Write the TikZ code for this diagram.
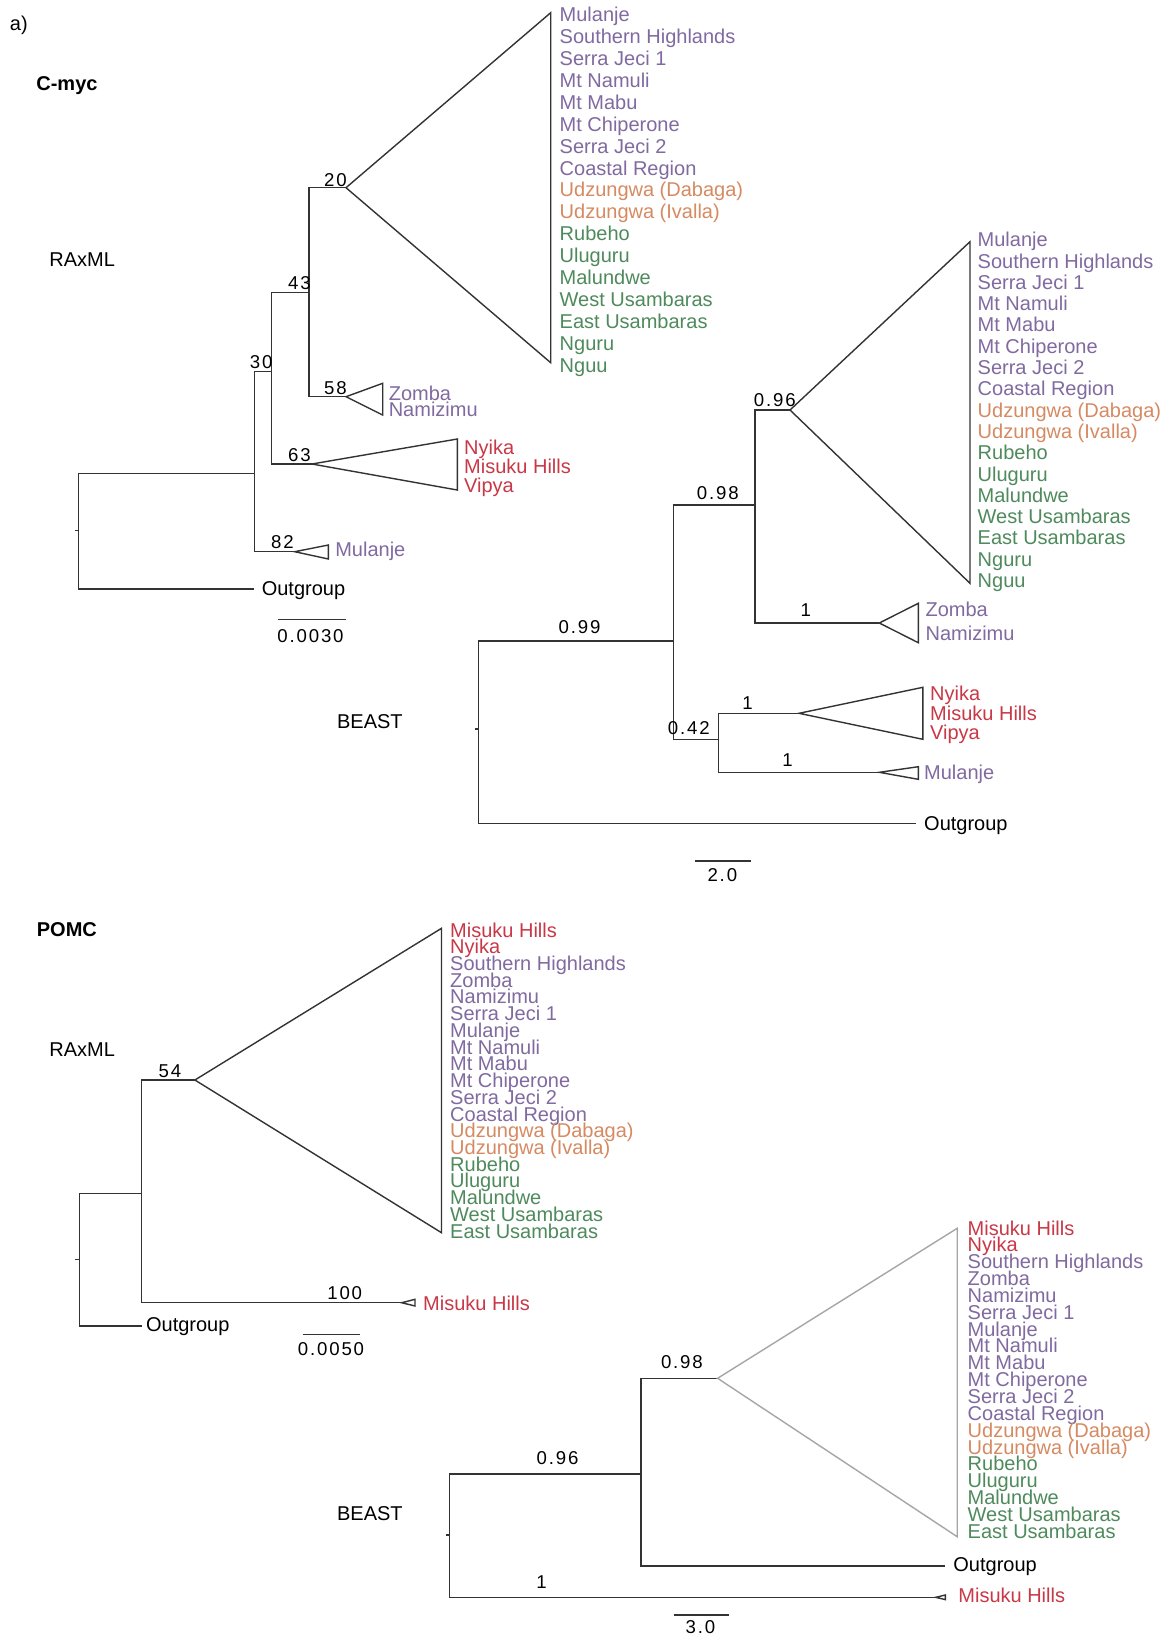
\documentclass[tikz,border=0pt]{standalone}
\usepackage{fontspec}
\setmainfont{Liberation Sans}
\newfontfamily\supfont{Liberation Sans}[LetterSpace=10]
\usetikzlibrary{positioning}
\definecolor{pur}{RGB}{128,106,160}
\definecolor{ora}{RGB}{214,138,98}
\definecolor{grn}{RGB}{78,138,92}
\definecolor{redd}{RGB}{200,56,70}

\begin{document}
\begin{tikzpicture}[
  x=0.5pt, y=-0.5pt,
  br/.style={draw=black!80, line width=0.7pt},
  clade/.style={br, line join=miter},
  pale/.style={clade, draw=black!35},
  tip/.style={anchor=base west, inner sep=0pt, font=\fontsize{10}{12}\selectfont},
  ttl/.style={tip},
  sup/.style={inner sep=0pt, font=\supfont\fontsize{9.3}{11}\selectfont}
]
\path[use as bounding box, fill=white] (0,0) rectangle (1170,1639);

\node[ttl] (fig) at (9.6,30) {a)};
\node[ttl, font=\fontsize{10}{12}\selectfont\bfseries] (cmyc) at (36,90.7) {C-myc};
\node[ttl] (cml) at (49,266.7) {RAxML};
\node[ttl] (cbst) at (336.7,728) {BEAST};
\node[ttl, font=\fontsize{10}{12}\selectfont\bfseries] (pomc) at (36.5,936.7) {POMC};
\node[ttl] (pml) at (49,1056.7) {RAxML};
\node[ttl] (pbst) at (336.7,1520) {BEAST};

\coordinate (mr0) at (78.5,530.7);
\coordinate (mr1) at (254.5,473.3);
\coordinate (mrout) at (253.7,589);
\coordinate (mr30) at (271.7,371.7);
\coordinate (mr82) at (294.7,551.7);
\coordinate (mr43) at (309,292.3);
\coordinate (mr63) at (311.9,464);
\coordinate (mr20) at (346,187.7);
\coordinate (mr58) at (346,396.7);
\draw[br] (mr0) -- ++(-4,0);
\draw[br] (mr0) |- (mr1);
\draw[br] (mr0) |- (mrout);
\draw[br] (mr1) |- (mr30);
\draw[br] (mr1) |- (mr82);
\draw[br] (mr30) |- (mr43);
\draw[br] (mr30) |- (mr63);
\draw[br] (mr43) |- (mr20);
\draw[br] (mr43) |- (mr58);
\draw[clade] (mr20) -- (550.7,12.7) -- (550.7,362.7) -- cycle;
\draw[clade] (mr58) -- (382.7,383.3) -- (382.7,415) -- cycle;
\draw[clade] (mr63) -- (457.3,439) -- (457.3,490) -- cycle;
\draw[clade] (mr82) -- (328.4,545) -- (328.4,559) -- cycle;
\node[sup] (mrs20) at (335.5,180) {20};
\node[sup] (mrs43) at (299.5,283) {43};
\node[sup] (mrs58) at (335.5,388) {58};
\node[sup] (mrs30) at (261.2,361.7) {30};
\node[sup] (mrs63) at (299.5,455) {63};
\node[sup] (mrs82) at (282.4,541.7) {82};
\foreach \cl/\lb [count=\i from 0] in {pur/Mulanje, pur/Southern Highlands, pur/Serra Jeci 1, pur/Mt Namuli, pur/Mt Mabu, pur/Mt Chiperone, pur/Serra Jeci 2, pur/Coastal Region, ora/Udzungwa (Dabaga), ora/Udzungwa (Ivalla), grn/Rubeho, grn/Uluguru, grn/Malundwe, grn/West Usambaras, grn/East Usambaras, grn/Nguru, grn/Nguu}
  \node[tip, text=\cl] (mrt\i) at (559.3,{21.7+21.9*\i}) {\lb};
\node[tip, text=pur] (mrzo) at (388.4,400) {Zomba};
\node[tip, text=pur] (mrna) at (388.4,416.7) {Namizimu};
\node[tip, text=redd] (mrny) at (463.8,454) {Nyika};
\node[tip, text=redd] (mrmi) at (463.8,473.3) {Misuku Hills};
\node[tip, text=redd] (mrvi) at (463.8,492.3) {Vipya};
\node[tip, text=pur] (mrmu) at (334.9,556.7) {Mulanje};
\node[tip] (mrog) at (261.4,595) {Outgroup};
\draw[br] (278.2,619.3) -- (346.3,619.3);
\node[sup] (mrbar) at (310.5,636) {0.0030};

\coordinate (mb0) at (478.5,729);
\coordinate (mb1) at (673.6,641);
\coordinate (mbout) at (916,823.3);
\coordinate (mb2) at (755,505);
\coordinate (mb3) at (718.6,739.3);
\coordinate (mb96) at (790,410);
\coordinate (mbz) at (879.3,623);
\coordinate (mbn) at (799,713.3);
\coordinate (mbm) at (879.3,772.3);
\draw[br] (mb0) -- ++(-4,0);
\draw[br] (mb0) |- (mb1);
\draw[br] (mb0) |- (mbout);
\draw[br] (mb1) |- (mb2);
\draw[br] (mb1) |- (mb3);
\draw[br] (mb2) |- (mb96);
\draw[br] (mb2) |- (mbz);
\draw[br] (mb3) |- (mbn);
\draw[br] (mb3) |- (mbm);
\draw[clade] (mb96) -- (970,241.7) -- (970,583.3) -- cycle;
\draw[clade] (mbz) -- (918.3,603.3) -- (918.3,642.7) -- cycle;
\draw[clade] (mbn) -- (922.9,687.3) -- (922.9,739.3) -- cycle;
\draw[clade] (mbm) -- (918.3,766.7) -- (918.3,779.3) -- cycle;
\node[sup] (mbs99) at (579.5,626.7) {0.99};
\node[sup] (mbs98) at (717.8,493.3) {0.98};
\node[sup] (mbs96) at (774.7,400) {0.96};
\node[sup] (mbsz) at (805.8,610) {1};
\node[sup] (mbs42) at (688.7,728.3) {0.42};
\node[sup] (mbsn) at (747.5,703.3) {1};
\node[sup] (mbsm) at (787.5,760) {1};
\foreach \cl/\lb [count=\i from 0] in {pur/Mulanje, pur/Southern Highlands, pur/Serra Jeci 1, pur/Mt Namuli, pur/Mt Mabu, pur/Mt Chiperone, pur/Serra Jeci 2, pur/Coastal Region, ora/Udzungwa (Dabaga), ora/Udzungwa (Ivalla), grn/Rubeho, grn/Uluguru, grn/Malundwe, grn/West Usambaras, grn/East Usambaras, grn/Nguru, grn/Nguu}
  \node[tip, text=\cl] (mbt\i) at (977.3,{246.7+21.3*\i}) {\lb};
\node[tip, text=pur] (mbzo) at (925.2,616.7) {Zomba};
\node[tip, text=pur] (mbna) at (925.2,640) {Namizimu};
\node[tip, text=redd] (mbny) at (929.8,700.7) {Nyika};
\node[tip, text=redd] (mbmi) at (929.8,720) {Misuku Hills};
\node[tip, text=redd] (mbvi) at (929.8,739.3) {Vipya};
\node[tip, text=pur] (mbmu) at (923.8,779.3) {Mulanje};
\node[tip] (mbog) at (923.8,830) {Outgroup};
\draw[br] (694.7,861) -- (750.7,861);
\node[sup] (mbbar) at (722.3,875) {2.0};

\coordinate (pr0) at (79.3,1259.3);
\coordinate (pr1) at (141.7,1193.3);
\coordinate (prout) at (141.7,1326);
\coordinate (pr54) at (194.9,1080);
\coordinate (pr100) at (401.7,1302.7);
\draw[br] (pr0) -- ++(-4,0);
\draw[br] (pr0) |- (pr1);
\draw[br] (pr0) |- (prout);
\draw[br] (pr1) |- (pr54);
\draw[br] (pr1) |- (pr100);
\draw[clade] (pr54) -- (441.5,928.3) -- (441.5,1232.7) -- cycle;
\draw[clade] (pr100) -- (415,1299.3) -- (415,1306) -- cycle;
\node[sup] (prs54) at (170,1070.7) {54};
\node[sup] (prs100) at (344.7,1292.7) {100};
\foreach \cl/\lb [count=\i from 0] in {redd/Misuku Hills, redd/Nyika, pur/Southern Highlands, pur/Zomba, pur/Namizimu, pur/Serra Jeci 1, pur/Mulanje, pur/Mt Namuli, pur/Mt Mabu, pur/Mt Chiperone, pur/Serra Jeci 2, pur/Coastal Region, ora/Udzungwa (Dabaga), ora/Udzungwa (Ivalla), grn/Rubeho, grn/Uluguru, grn/Malundwe, grn/West Usambaras, grn/East Usambaras}
  \node[tip, text=\cl] (prt\i) at (449.8,{937+16.73*\i}) {\lb};
\node[tip, text=redd] (prmi) at (422.8,1310) {Misuku Hills};
\node[tip] (prog) at (145.7,1331.7) {Outgroup};
\draw[br] (302.7,1334.3) -- (360,1334.3);
\node[sup] (prbar) at (331,1349.3) {0.0050};

\coordinate (pb0) at (449.7,1535);
\coordinate (pb1) at (641.1,1474);
\coordinate (pbm) at (935.8,1597.3);
\coordinate (pb98) at (717.6,1378.3);
\coordinate (pbout) at (945.3,1566);
\draw[br] (pb0) -- ++(-4,0);
\draw[br] (pb0) |- (pb1);
\draw[br] (pb0) |- (pbm);
\draw[br] (pb1) |- (pb98);
\draw[br] (pb1) |- (pbout);
\draw[pale] (pb98) -- (957.2,1228.3) -- (957.2,1536.7) -- cycle;
\draw[clade] (pbm) -- (945.3,1595) -- (945.3,1599.6) -- cycle;
\node[sup] (pbs96) at (557.6,1458.3) {0.96};
\node[sup] (pbs98) at (681.9,1361.7) {0.98};
\node[sup] (pbsm) at (541.6,1581.7) {1};
\foreach \cl/\lb [count=\i from 0] in {redd/Misuku Hills, redd/Nyika, pur/Southern Highlands, pur/Zomba, pur/Namizimu, pur/Serra Jeci 1, pur/Mulanje, pur/Mt Namuli, pur/Mt Mabu, pur/Mt Chiperone, pur/Serra Jeci 2, pur/Coastal Region, ora/Udzungwa (Dabaga), ora/Udzungwa (Ivalla), grn/Rubeho, grn/Uluguru, grn/Malundwe, grn/West Usambaras, grn/East Usambaras}
  \node[tip, text=\cl] (pbt\i) at (967.3,{1235+16.85*\i}) {\lb};
\node[tip] (pbog) at (953,1571.7) {Outgroup};
\node[tip, text=redd] (pbmi) at (958,1602.3) {Misuku Hills};
\draw[br] (673.6,1615) -- (729.1,1615);
\node[sup] (pbbar) at (700.4,1626.7) {3.0};
\end{tikzpicture}
\end{document}
